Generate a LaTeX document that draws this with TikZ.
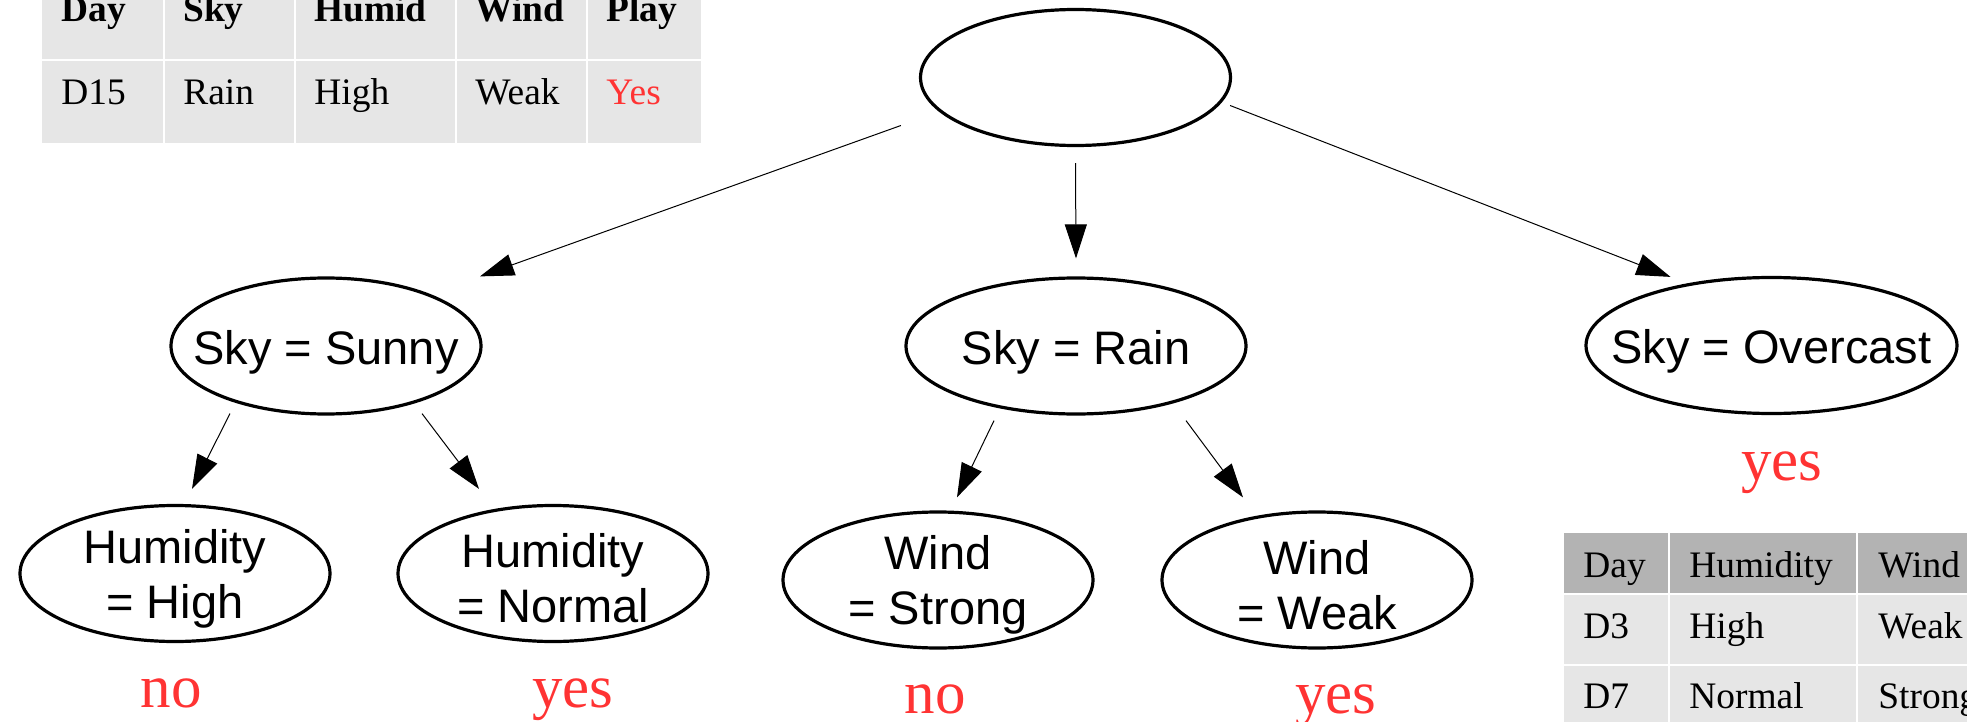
\documentclass[tikz,border=0pt]{standalone}
\usepackage{fontspec}
\setmainfont{Liberation Serif}
\setsansfont{Liberation Sans}
\usetikzlibrary{arrows.meta}
\usetikzlibrary{shapes.geometric}
\usetikzlibrary{calc}
\definecolor{leafred}{HTML}{FF3333}
\definecolor{cellgray}{HTML}{E6E6E6}
\definecolor{headgray}{HTML}{B3B3B3}

\begin{document}
\begin{tikzpicture}[
    x=0.5pt, y=-0.5pt, % one unit is one pixel of the layout, y downwards
    test/.style={
        draw, % black outline
        shape=ellipse, % oval test nodes
        line width=1.6pt,
        minimum width=155pt,
        minimum height=68pt,
        inner xsep=-20pt, inner ysep=-8pt, % size comes from the minimum only
        align=center, % two-line labels centered
        font=\sffamily\fontsize{23.5}{27.5}\selectfont
    },
    single/.style={test, text height=23pt}, % one line, sits a little low
    double/.style={test, text height=49.7pt}, % two lines, same idea
    leaf/.style={anchor=base, text=leafred, font=\fontsize{30.5}{30.5}\selectfont}, % class under a test
    arr/.style={-{Triangle[length=17pt,width=11pt]}, line width=0.5pt}, % edge arrows
    cell/.style={anchor=base west, inner sep=0pt, font=\fontsize{18.7}{18.7}\selectfont}, % table text
    rule/.style={draw=white, line width=1pt} % white grid lines
]
\clip (0,0) rectangle (1967,722);

% query table (top left)
\fill[cellgray] (42,-30) rectangle (701,143);
\draw[rule] (42,60) -- (701,60);
\foreach \x in {164,295,456,587} \draw[rule] (\x,-30) -- (\x,143);
\foreach \x/\t [count=\i] in {61/Day,183/Sky,314/Humid,475/Wind,606/Play}
    \node[cell] (qh\i) at (\x,22) {\textbf{\t}};
\foreach \x/\t [count=\i] in {61/D15,183/Rain,314/High,475/Weak}
    \node[cell] (qb\i) at (\x,105) {\t};
\node[cell, text=leafred] (qb5) at (606,105) {Yes};

% tree
\node[single] (root) at (1075.5,77.5) {};
\node[single] (sunny) at (326,346) {Sky = Sunny};
\node[single, minimum width=170pt] (rain) at (1076,346) {Sky = Rain};
\node[single, minimum width=185.5pt] (over) at (1771.5,345.5) {Sky = Overcast};
\node[double] (humhigh) at (175,573.5) {Humidity\\= High};
\node[double] (humnorm) at (553,573.5) {Humidity\\= Normal};
\node[double] (windstrong) at (938,580) {Wind\\= Strong};
\node[double] (windweak) at (1317,580) {Wind\\= Weak};

\draw[arr] ($(root.west)+(-18,48)$) -- ($(sunny.north)+(154,0)$);
\draw[arr] ($(root.south)+(0,16)$) -- ($(rain.north)+(0,-18)$);
\draw[arr] ($(root.east)+(-2,28)$) -- ($(over.north)+(-101,1)$);
\draw[arr] ($(sunny.south)+(-96,-2)$) -- ($(humhigh.north)+(17,-15)$);
\draw[arr] ($(sunny.south)+(96,-2)$) -- ($(humnorm.north)+(-74,-15)$);
\draw[arr] ($(rain.south)+(-82,5)$) -- ($(windstrong.north)+(19,-13)$);
\draw[arr] ($(rain.south)+(110,5)$) -- ($(windweak.north)+(-74,-13)$);

\node[leaf] (no1) at (171,707) {no};
\node[leaf] (yes1) at (573,707) {yes};
\node[leaf] (no2) at (935,713) {no};
\node[leaf] (yes2) at (1336,713) {yes};
\node[leaf] (yes3) at (1782,480) {yes};

% subset table (bottom right)
\fill[headgray] (1564,533) rectangle (1990,594);
\fill[cellgray] (1564,594) rectangle (1990,740);
\draw[rule] (1564,594) -- (1990,594);
\draw[rule] (1564,665) -- (1990,665);
\foreach \x in {1669,1857} \draw[rule] (\x,533) -- (\x,740);
\foreach \x/\t [count=\i] in {1583/Day,1689/Humidity,1878/Wind}
    \node[cell] (sh\i) at (\x,577) {\t};
\foreach \x/\t [count=\i] in {1583/D3,1689/High,1878/Weak}
    \node[cell] (sa\i) at (\x,638) {\t};
\foreach \x/\t [count=\i] in {1583/D7,1689/Normal,1878/Strong}
    \node[cell] (sb\i) at (\x,708) {\t};
\end{tikzpicture}
\end{document}
